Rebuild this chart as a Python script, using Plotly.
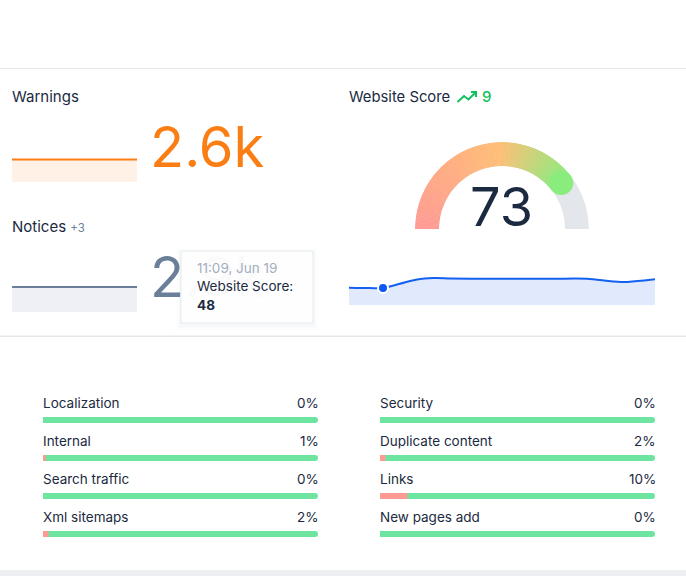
import plotly.graph_objects as go

W, H = 686, 576
FONT = "Inter"
DARK = "#1B2A41"

# ---- data ----
warn_x = [0, 1, 2, 3, 4, 5, 6, 7, 8, 9]
warn_vals = [2600, 2600, 2600, 2600, 2600, 2600, 2600, 2600, 2600, 2600]
notice_vals = [2900, 2900, 2900, 2900, 2900, 2900, 2900, 2900, 2900, 2900]
score_x = [0, 0.6, 1, 1.5, 2, 2.5, 3, 4, 5, 6, 7, 8, 9]
score_vals = [49, 48, 48, 60, 72, 76, 75, 74, 74, 74, 74, 65, 73]
tip_idx = 2
gauge_score = 73
gauge_arc_end = 79
left_cats = ["Localization", "Internal", "Search traffic", "Xml sitemaps"]
left_vals = [0, 1, 0, 2]
right_cats = ["Security", "Duplicate content", "Links", "New pages add"]
right_vals = [0, 2, 10, 0]


def fx(p): return p / W
def fy(p): return 1 - p / H
def path_px(pts, close=False):
    s = "M" + " L".join(f"{fx(x):.5f},{fy(y):.5f}" for x, y in pts)
    return s + (" Z" if close else "")


fig = go.Figure()
layout_axes = {}


def cart(name, x0, x1, ytop, ybot, xr, yr, **ykw):
    sx = "" if name == 1 else str(name)
    layout_axes[f"xaxis{sx}"] = dict(domain=[fx(x0), fx(x1)], range=xr, visible=False, fixedrange=True, anchor=f"y{sx}")
    layout_axes[f"yaxis{sx}"] = dict(domain=[fy(ybot), fy(ytop)], range=yr, visible=False, fixedrange=True, anchor=f"x{sx}", **ykw)
    return f"x{sx}", f"y{sx}"


def spark(xv, yv, ax, line, fill, width=2, shape="linear"):
    fig.add_trace(go.Scatter(x=xv, y=yv, xaxis=ax[0], yaxis=ax[1], mode="lines", fill="tozeroy",
                             fillcolor=fill, line=dict(color=line, width=width, shape=shape, smoothing=0.9),
                             hoverinfo="skip", showlegend=False))


# sparklines: 0 sits on the base of each block, shared pixels per value
a1 = cart(1, 12, 137, 182 - 34.6, 182, [0, 9], [0, 4000])
spark(warn_x, warn_vals, a1, "#FB7E14", "#FFF1E6")
a2 = cart(2, 12, 137, 312 - 34.6, 312, [0, 9], [0, 4000])
spark(warn_x, notice_vals, a2, "#6B7F99", "#EEF0F5")
a3 = cart(3, 349, 655, 305 - 35.4, 305, [0, 9], [0, 100])
spark(score_x, score_vals, a3, "#1460F2", "#E0EAFC", shape="spline")
fig.add_trace(go.Scatter(x=[score_x[tip_idx]], y=[score_vals[tip_idx]], xaxis=a3[0], yaxis=a3[1], mode="markers",
                         marker=dict(size=10, color="#0B57F5", line=dict(color="white", width=2)),
                         cliponaxis=False, hoverinfo="skip", showlegend=False))

# big numbers as text traces (so the tooltip shape can sit above them)
a4 = cart(4, 0, W, 0, H, [0, W], [H, 0])
big = dict(family=FONT, size=56, weight=400)
fig.add_trace(go.Scatter(x=[150], y=[153], xaxis=a4[0], yaxis=a4[1], mode="text", text=["2.6k"], textposition="middle right",
                         textfont=dict(color="#FB7E14", **big), hoverinfo="skip", showlegend=False))
fig.add_trace(go.Scatter(x=[150], y=[283], xaxis=a4[0], yaxis=a4[1], mode="text", text=["2.9k"], textposition="middle right",
                         textfont=dict(color="#6B7F99", **big), hoverinfo="skip", showlegend=False))

# progress bars
for n, cats, vals, x0, x1 in [(5, left_cats, left_vals, 43, 318), (6, right_cats, right_vals, 380, 655)]:
    ax = cart(n, x0, x1, 401, 553, [0, 100], [3.5, -0.5])
    idx = list(range(len(cats)))
    fig.add_trace(go.Bar(x=[100] * len(cats), y=idx, orientation="h", width=6 / 38, marker=dict(color="#6DE4A0", line_width=0),
                         xaxis=ax[0], yaxis=ax[1], hoverinfo="skip", showlegend=False))
    fig.add_trace(go.Bar(x=vals, y=idx, orientation="h", width=6 / 38, marker=dict(color="#FF9A93", line_width=0),
                         xaxis=ax[0], yaxis=ax[1], hoverinfo="skip", showlegend=False))

# gauge: centre (502,229), outer radius 87, inner radius 63
step = 1.0
sweep = [i * step for i in range(int(gauge_arc_end * 1.8))]
thetas = [180 - s - step / 2 for s in sweep]
end_theta = 180 - gauge_arc_end * 1.8
fig.add_trace(go.Barpolar(r=[24], base=[63], theta=[90], width=[180], marker=dict(color="#E3E6EA", line_width=0),
                          subplot="polar", hoverinfo="skip", showlegend=False))
fig.add_trace(go.Barpolar(r=[24] * len(thetas), base=[63] * len(thetas), theta=thetas, width=[step * 1.3] * len(thetas),
                          marker=dict(color=sweep, cmin=0, cmax=sweep[-1], line_width=0,
                                      colorscale=[[0, "#FF9A93"], [0.62, "#FFBE76"], [1, "#8BEC7E"]], showscale=False),
                          subplot="polar", hoverinfo="skip", showlegend=False))
fig.add_trace(go.Scatterpolar(r=[75], theta=[end_theta], mode="markers", marker=dict(size=24, color="#8BEC7E", line_width=0),
                              subplot="polar", hoverinfo="skip", showlegend=False))


def ann(text, x, y, size=13.5, color=DARK, anchor="left", **kw):
    return dict(text=text, x=fx(x), y=fy(y), xref="paper", yref="paper", xanchor=anchor, yanchor="middle", showarrow=False,
                borderpad=0, font=dict(family=FONT, size=size, color=color, **kw))


anns = [
    ann("Warnings", 10.5, 96.5, 15),
    ann('Notices <span style="font-size:11.5px;color:#6B7F99">+3</span>', 10.5, 226.5, 15),
    ann("Website Score", 347.5, 96.5, 14.8),
    ann("9", 481, 96.5, 15, "#12C15E", weight=500),
    ann(str(gauge_score), 501, 206.5, 54, DARK, "center", weight=400),
    ann("11:09, Jun 19", 195.5, 268.5, 13.5, "#A3AFC0"),
    ann("Website Score:", 195.5, 286.5, 13.5),
    ann(f"<b>{score_vals[tip_idx]}</b>", 195.5, 304.5, 13.5),
]
for n, cats, vals in [(5, left_cats, left_vals), (6, right_cats, right_vals)]:
    sx = str(n)
    for i, (c, v) in enumerate(zip(cats, vals)):
        base = dict(xref="x" + sx, yref="y" + sx, y=i, yshift=17, showarrow=False, yanchor="middle", borderpad=0)
        anns.append(dict(text=c, x=0, xanchor="left", xshift=-1, font=dict(family=FONT, size=13.5, color=DARK), **base))
        anns.append(dict(text=f"{v}%", x=100, xanchor="right", xshift=2, font=dict(family=FONT, size=13.5, color=DARK), **base))


def rect(x0, y0, x1, y1, fill, opacity=1, layer="above", line=None):
    return dict(type="rect", xref="paper", yref="paper", x0=fx(x0), x1=fx(x1), y0=fy(y1), y1=fy(y0), fillcolor=fill,
                opacity=opacity, layer=layer, line=dict(width=0) if line is None else dict(color=line, width=1))


shapes = [
    rect(0, 68, W, 69, "#E5E7EB", layer="below"),
    rect(0, 335.5, W, 337, "#E5E7EB", layer="below"),
    rect(0, 570, W, H, "#EDEFF2", layer="below"),
    dict(type="path", xref="paper", yref="paper", line=dict(color="#12C15E", width=2), layer="above",
         path=path_px([(457.5, 102), (464, 96), (468.5, 99.5), (476, 92)])),
    dict(type="path", xref="paper", yref="paper", line=dict(color="#12C15E", width=2), layer="above",
         path=path_px([(471, 92), (476, 92), (476, 97)])),
]
for g, op in [(6, 0.008), (4, 0.012), (2, 0.018)]:
    shapes.append(rect(181 - g, 251 - g + 2, 313 + g, 323 + g + 2, "#3A4A60", op))
shapes.append(rect(181, 251, 313, 323, "white", 0.97, line="#E6E9EE"))

fig.update_layout(
    width=W, height=H, autosize=False, margin=dict(l=0, r=0, t=0, b=0),
    paper_bgcolor="white", plot_bgcolor="rgba(0,0,0,0)", showlegend=False, barmode="overlay", barcornerradius=3,
    font=dict(family=FONT, color=DARK),
    polar=dict(domain=dict(x=[fx(415), fx(589)], y=[fy(229), fy(142)]), sector=[0, 180], bgcolor="rgba(0,0,0,0)",
               radialaxis=dict(visible=False, range=[0, 87]), angularaxis=dict(visible=False)),
    annotations=anns, shapes=shapes, **layout_axes,
)
fig.write_html("out.html", config=dict(displayModeBar=False), post_script="document.body.style.margin='0';")
